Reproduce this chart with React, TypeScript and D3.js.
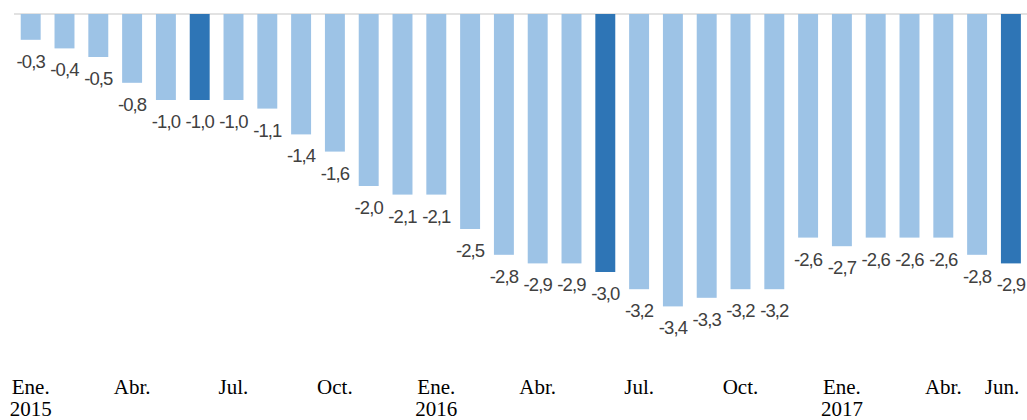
import React from "react";
import * as d3 from "d3";

const months: string[] = [
  "2015-01","2015-02","2015-03","2015-04","2015-05","2015-06","2015-07","2015-08","2015-09","2015-10","2015-11","2015-12",
  "2016-01","2016-02","2016-03","2016-04","2016-05","2016-06","2016-07","2016-08","2016-09","2016-10","2016-11","2016-12",
  "2017-01","2017-02","2017-03","2017-04","2017-05","2017-06",
];
const values: number[] = [
  -0.3, -0.4, -0.5, -0.8, -1.0, -1.0, -1.0, -1.1, -1.4, -1.6, -2.0, -2.1,
  -2.1, -2.5, -2.8, -2.9, -2.9, -3.0, -3.2, -3.4, -3.3, -3.2, -3.2, -2.6,
  -2.7, -2.6, -2.6, -2.6, -2.8, -2.9,
];
const highlighted: string[] = ["2015-06", "2016-06", "2017-06"];
const tickMonths: string[] = ["2015-01","2015-04","2015-07","2015-10","2016-01","2016-04","2016-07","2016-10","2017-01","2017-04","2017-06"];
const tickLabels: string[] = ["Ene.","Abr.","Jul.","Oct.","Ene.","Abr.","Jul.","Oct.","Ene.","Abr.","Jun."];
const yearLabels: string[] = ["2015","","","","2016","","","","2017","",""];

const W = 1027;
const H = 420;

export default function App() {
  const x = d3.scaleBand<string>()
    .domain(months)
    .range([13.8, 1027.8])
    .paddingInner(0.41)
    .paddingOuter(0.205);
  const y = d3.scaleLinear().domain([0, -4]).range([14, 14 + 344]);
  const fmt = (v: number) => d3.format(".1f")(v).replace("−", "-").replace(".", ",");
  const center = (m: string) => (x(m) ?? 0) + x.bandwidth() / 2;

  return (
    <svg width={W} height={H} style={{ position: "absolute", left: 0, top: 0, background: "#fff" }}>
      <line x1={14} x2={W} y1={y(0)} y2={y(0)} stroke="#d9d9d9" strokeWidth={1.5} />
      {months.map((m, i) => (
        <rect
          key={m}
          x={x(m)}
          y={y(0)}
          width={x.bandwidth()}
          height={y(values[i]) - y(0)}
          fill={highlighted.includes(m) ? "#2E75B6" : "#9DC3E6"}
        />
      ))}
      {months.map((m, i) => (
        <text
          key={"l" + m}
          x={center(m)}
          y={y(values[i]) + 28}
          textAnchor="middle"
          fontFamily="'Liberation Sans', Arial, sans-serif"
          fontSize={18.5}
          letterSpacing={-0.9}
          fill="#404040"
        >
          {fmt(values[i])}
        </text>
      ))}
      {tickMonths.map((m, i) => {
        const cx = Math.min(center(m), W - 25);
        return (
          <g key={"t" + m} fontFamily="'Liberation Serif', 'Times New Roman', serif" fontSize={21} fill="#000" textAnchor="middle">
            <text x={cx} y={394}>{tickLabels[i]}</text>
            {yearLabels[i] && <text x={cx} y={416}>{yearLabels[i]}</text>}
          </g>
        );
      })}
    </svg>
  );
}
